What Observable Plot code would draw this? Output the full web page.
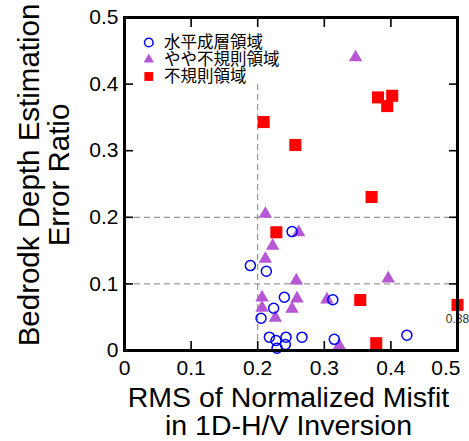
<!DOCTYPE html>
<html>
<head>
<meta charset="utf-8">
<script src="https://cdn.jsdelivr.net/npm/d3@7"></script>
<script src="https://cdn.jsdelivr.net/npm/@observablehq/plot@0.6"></script>
<style>
  html, body { margin: 0; padding: 0; background: #fff; }
  #chart svg { display: block; }
</style>
</head>
<body>
<div id="chart"></div>
<script>
// ---- Data ----
// 水平成層領域 (open blue circles)
const flatX = [0.2516, 0.189, 0.213, 0.240, 0.3128, 0.224, 0.205, 0.2175, 0.2275, 0.2425, 0.2665, 0.229, 0.2415, 0.315, 0.424];
const flatY = [0.1785, 0.1275, 0.119, 0.080, 0.0762, 0.0635, 0.0485, 0.020, 0.015, 0.020, 0.020, 0.0035, 0.009, 0.0168, 0.023];
// やや不規則領域 (purple triangles)
const semiX = [0.347, 0.2115, 0.2615, 0.2225, 0.2115, 0.258, 0.396, 0.2065, 0.259, 0.304, 0.2065, 0.2515, 0.2265, 0.3225];
const semiY = [0.440, 0.205, 0.1775, 0.157, 0.1375, 0.105, 0.108, 0.0795, 0.078, 0.0765, 0.064, 0.0625, 0.049, 0.0075];
// 不規則領域 (red squares); 0.88 lies beyond the axis and is drawn at its edge
const irrX = [0.3807, 0.402, 0.3945, 0.209, 0.2565, 0.371, 0.228, 0.354, 0.88, 0.378];
const irrY = [0.380, 0.3825, 0.367, 0.343, 0.3085, 0.2305, 0.1775, 0.0758, 0.0685, 0.011];

const legendLabels = ["水平成層領域", "やや不規則領域", "不規則領域"];
const xLabelTicks = [0, 0.1, 0.2, 0.3, 0.4];
const xLastTick = [0.5];
const yLabelTicks = [0, 0.1, 0.2, 0.3, 0.4, 0.5];
const innerTicks = [0.1, 0.2, 0.3, 0.4];
const gridY = [0.1, 0.2];
const gridX = [0.2];
const gridXTop = 0.4;
const xMax = 0.5;
const xTitle = "RMS of Normalized Misfit\nin 1D-H/V Inversion";
const yTitle = "Bedrodk Depth Estimation\nError Ratio";

// ---- Tables ----
const flat = flatX.map((x, i) => ({x, y: flatY[i]}));
const semi = semiX.map((x, i) => ({x, y: semiY[i]}));
const irr = irrX.map((x, i) => ({x, y: irrY[i]}));
const irrOut = irr.filter(d => d.x > xMax);

const purple = "#b857d6";
const blue = "#0000ee";
const red = "#ff0000";
const cjk = "'Noto Sans CJK JP', 'Noto Sans', sans-serif";
const fmt = d => String(d);

const one = [0];

const chart = Plot.plot({
  width: 469,
  height: 441,
  marginLeft: 124,
  marginRight: 12,
  marginTop: 17,
  marginBottom: 91,
  x: {domain: [0, 0.5]},
  y: {domain: [0, 0.5]},
  style: {fontFamily: "'Liberation Sans', Arial, Helvetica, sans-serif", backgroundColor: "white", color: "black"},
  marks: [
    Plot.ruleY(gridY, {stroke: "#808080", strokeWidth: 1, strokeDasharray: "6,4"}),
    Plot.ruleX(gridX, {y1: 0, y2: gridXTop, stroke: "#808080", strokeWidth: 1, strokeDasharray: "6,4"}),
    Plot.dot(semi, {x: "x", y: "y", symbol: "triangle", r: 5, fill: purple, stroke: "none"}),
    Plot.dot(irr, {x: d => Math.min(d.x, xMax), y: "y", symbol: "square", r: 6.8, fill: red, stroke: "none"}),
    Plot.text(irrOut, {x: () => xMax, y: "y", text: d => d.x.toFixed(2), dy: 14, fontSize: 12, fill: "#333"}),
    Plot.dot(flat, {x: "x", y: "y", r: 5, stroke: blue, strokeWidth: 1.5, fill: "white", fillOpacity: 0}),
    // legend
    Plot.dot(one, {frameAnchor: "top-left", dx: 24.3, dy: 25, r: 4.3, stroke: blue, strokeWidth: 1.5, fill: "none"}),
    Plot.dot(one, {frameAnchor: "top-left", dx: 24.3, dy: 42, symbol: "triangle", r: 3.8, fill: purple}),
    Plot.dot(one, {frameAnchor: "top-left", dx: 24.3, dy: 59, symbol: "square", r: 5, fill: red}),
    Plot.text([legendLabels[0]], {frameAnchor: "top-left", dx: 39.5, dy: 25, textAnchor: "start", lineAnchor: "middle", fontSize: 16.5, fontFamily: cjk, fill: "black"}),
    Plot.text([legendLabels[1]], {frameAnchor: "top-left", dx: 39.5, dy: 42, textAnchor: "start", lineAnchor: "middle", fontSize: 16.5, fontFamily: cjk, fill: "black"}),
    Plot.text([legendLabels[2]], {frameAnchor: "top-left", dx: 39.5, dy: 59, textAnchor: "start", lineAnchor: "middle", fontSize: 16.5, fontFamily: cjk, fill: "black"}),
    // axes: labels
    Plot.axisX(xLabelTicks, {anchor: "bottom", tickSize: 0, tickPadding: 10, fontSize: 21, tickFormat: fmt, label: null}),
    Plot.axisX(xLastTick, {anchor: "bottom", tickSize: 0, tickPadding: 10, fontSize: 21, tickFormat: fmt, textAnchor: "end", dx: 3, label: null}),
    Plot.axisY(yLabelTicks, {anchor: "left", tickSize: 0, tickPadding: 6, fontSize: 21, tickFormat: fmt, label: null}),
    // axes: inward ticks on all four sides
    Plot.axisX(innerTicks, {anchor: "bottom", tickSize: 9, dy: -9, strokeWidth: 1.6, fill: "none", label: null}),
    Plot.axisX(innerTicks, {anchor: "top", tickSize: 9, dy: 9, strokeWidth: 1.6, fill: "none", label: null}),
    Plot.axisY(innerTicks, {anchor: "left", tickSize: 9, dx: 9, strokeWidth: 1.6, fill: "none", label: null}),
    Plot.axisY(innerTicks, {anchor: "right", tickSize: 9, dx: -9, strokeWidth: 1.6, fill: "none", label: null}),
    Plot.frame({stroke: "black", strokeWidth: 3}),
    // axis titles
    Plot.text([xTitle], {frameAnchor: "bottom", dy: 37, dx: -2.5, lineAnchor: "top", textAnchor: "middle", fontSize: 28.5, lineHeight: 0.98, fill: "black"}),
    Plot.text([yTitle], {frameAnchor: "left", dx: -80, dy: -9, rotate: -90, lineAnchor: "middle", textAnchor: "middle", fontSize: 29.5, lineHeight: 1.02, fill: "black"})
  ]
});

document.getElementById("chart").appendChild(chart);
</script>
</body>
</html>
